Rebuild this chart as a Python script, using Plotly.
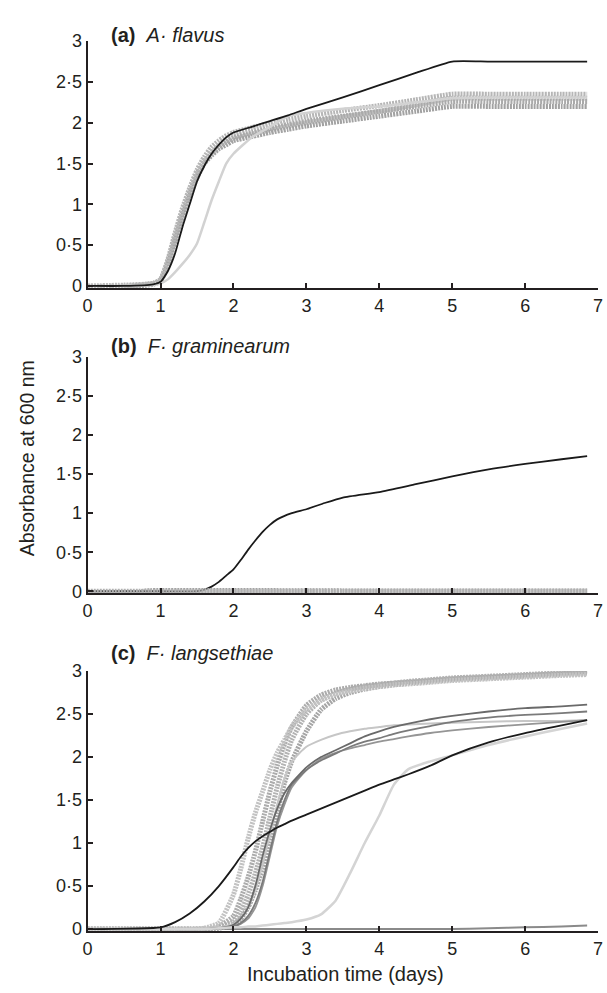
import plotly.graph_objects as go

# ---------------- data ----------------
# Panel (a) A. flavus
a_t = [0, 0.5, 0.9, 1.0, 1.1, 1.2, 1.3, 1.4, 1.5, 1.6, 1.7, 1.8, 1.9, 2.0, 2.25, 2.5, 2.75, 3.0, 3.5, 4.0, 4.5, 5.0, 5.5, 6.0, 6.5, 6.85]
a_black = [0, 0, 0.02, 0.05, 0.18, 0.4, 0.72, 1.0, 1.28, 1.47, 1.62, 1.73, 1.82, 1.88, 1.95, 2.02, 2.09, 2.17, 2.31, 2.46, 2.61, 2.75, 2.75, 2.75, 2.75, 2.75]
a_light = [0, 0, 0.01, 0.03, 0.08, 0.17, 0.27, 0.38, 0.52, 0.78, 1.05, 1.28, 1.5, 1.62, 1.82, 1.95, 2.08, 2.12, 2.17, 2.2, 2.25, 2.3, 2.31, 2.31, 2.31, 2.31]
a_gray1 = [-0.01, -0.01, 0.03, 0.07, 0.3, 0.6, 0.9, 1.15, 1.38, 1.53, 1.63, 1.71, 1.77, 1.82, 1.88, 1.93, 1.98, 2.02, 2.08, 2.14, 2.2, 2.26, 2.26, 2.26, 2.26, 2.26]
a_gray2 = [-0.01, 0, 0.03, 0.08, 0.32, 0.65, 0.95, 1.2, 1.42, 1.58, 1.7, 1.78, 1.84, 1.88, 1.94, 1.99, 2.04, 2.08, 2.15, 2.21, 2.28, 2.35, 2.35, 2.35, 2.35, 2.35]
a_gray3 = [-0.01, -0.01, 0.02, 0.06, 0.26, 0.55, 0.85, 1.1, 1.33, 1.5, 1.6, 1.68, 1.73, 1.78, 1.83, 1.88, 1.92, 1.96, 2.02, 2.08, 2.14, 2.2, 2.2, 2.2, 2.2, 2.2]
a_gray4 = [0, 0.01, 0.03, 0.07, 0.28, 0.58, 0.88, 1.13, 1.36, 1.52, 1.62, 1.7, 1.76, 1.8, 1.86, 1.91, 1.96, 2.0, 2.07, 2.14, 2.22, 2.3, 2.3, 2.3, 2.3, 2.3]

# Panel (b) F. graminearum
b_t = [0, 1.0, 1.5, 1.6, 1.7, 1.8, 1.9, 2.0, 2.1, 2.2, 2.3, 2.4, 2.5, 2.6, 2.8, 3.0, 3.25, 3.5, 4.0, 4.5, 5.0, 5.5, 6.0, 6.5, 6.85]
b_black = [0, 0, 0, 0.02, 0.06, 0.12, 0.2, 0.28, 0.4, 0.53, 0.65, 0.76, 0.85, 0.92, 1.0, 1.05, 1.13, 1.2, 1.27, 1.37, 1.47, 1.56, 1.63, 1.69, 1.73]
b_gray_t = [0, 0.7, 0.8, 3.5, 6.85]
b_gray1 = [-0.015, -0.015, 0.005, 0.005, 0.005]
b_gray2 = [0.0, 0.0, 0.0, 0.0, 0.0]

# Panel (c) F. langsethiae
c_t = [0, 1.0, 1.2, 1.4, 1.6, 1.8, 2.0, 2.1, 2.2, 2.3, 2.4, 2.5, 2.6, 2.7, 2.8, 3.0, 3.2, 3.4, 3.6, 3.8, 4.0, 4.2, 4.4, 4.7, 5.0, 5.5, 6.0, 6.5, 6.85]
c_black = [0, 0.02, 0.08, 0.18, 0.32, 0.5, 0.72, 0.84, 0.94, 1.02, 1.08, 1.13, 1.18, 1.22, 1.26, 1.33, 1.4, 1.47, 1.54, 1.61, 1.68, 1.74, 1.8, 1.9, 2.02, 2.17, 2.28, 2.37, 2.43]
c_light = [0, 0, 0, 0, 0, 0.01, 0.02, 0.02, 0.03, 0.03, 0.04, 0.05, 0.06, 0.07, 0.08, 0.11, 0.17, 0.33, 0.65, 1.0, 1.32, 1.68, 1.86, 1.95, 2.02, 2.14, 2.24, 2.33, 2.39]
c_dark1 = [0, 0, 0, 0, 0, 0.01, 0.05, 0.12, 0.25, 0.5, 0.85, 1.15, 1.4, 1.58, 1.7, 1.88, 2.0, 2.08, 2.16, 2.24, 2.3, 2.35, 2.39, 2.44, 2.48, 2.53, 2.57, 2.59, 2.61]
c_dark2 = [0, 0, 0, 0, 0, 0.01, 0.03, 0.07, 0.15, 0.3, 0.55, 0.9, 1.25, 1.5, 1.68, 1.85, 1.96, 2.04, 2.12, 2.18, 2.22, 2.27, 2.31, 2.36, 2.41, 2.46, 2.49, 2.51, 2.53]
c_mid = [0, 0, 0, 0, 0, 0.01, 0.03, 0.06, 0.12, 0.25, 0.5, 0.85, 1.2, 1.45, 1.65, 1.85, 1.98, 2.05, 2.1, 2.14, 2.18, 2.21, 2.24, 2.28, 2.31, 2.35, 2.38, 2.41, 2.43]
c_lsolid = [0, 0, 0, 0, 0, 0.02, 0.06, 0.12, 0.25, 0.45, 0.75, 1.1, 1.45, 1.75, 1.95, 2.12, 2.2, 2.26, 2.3, 2.33, 2.35, 2.37, 2.38, 2.39, 2.4, 2.41, 2.42, 2.42, 2.43]
c_thick1 = [-0.01, -0.01, -0.01, -0.01, 0.01, 0.07, 0.4, 0.7, 1.05, 1.35, 1.6, 1.85, 2.05, 2.2, 2.35, 2.55, 2.66, 2.73, 2.77, 2.8, 2.82, 2.84, 2.85, 2.87, 2.89, 2.91, 2.93, 2.95, 2.96]
c_thick2 = [-0.01, -0.01, -0.01, -0.01, 0, 0.03, 0.15, 0.35, 0.6, 0.9, 1.25, 1.6, 1.9, 2.15, 2.35, 2.6, 2.72, 2.78, 2.81, 2.83, 2.85, 2.86, 2.87, 2.89, 2.91, 2.93, 2.95, 2.97, 2.98]
c_thick3 = [0, 0, 0, 0, 0, 0.02, 0.08, 0.2, 0.4, 0.65, 0.95, 1.3, 1.65, 1.95, 2.2, 2.5, 2.66, 2.74, 2.79, 2.82, 2.84, 2.86, 2.88, 2.9, 2.92, 2.94, 2.96, 2.98, 3.0]
c_thick4 = [0, 0, 0, 0, 0, 0.01, 0.05, 0.12, 0.25, 0.45, 0.7, 1.0, 1.35, 1.7, 1.95, 2.3, 2.55, 2.68, 2.75, 2.79, 2.82, 2.84, 2.86, 2.88, 2.9, 2.92, 2.94, 2.96, 2.97]
c_base_t = [0, 5.0, 5.5, 6.0, 6.5, 6.85]
c_base = [0, 0.0, 0.01, 0.02, 0.03, 0.04]

x_ticks = [0, 1, 2, 3, 4, 5, 6, 7]
x_ticktext = ["0", "1", "2", "3", "4", "5", "6", "7"]
y_ticks = [0, 0.5, 1, 1.5, 2, 2.5, 3]
y_ticktext = ["0", "0·5", "1", "1·5", "2", "2·5", "3"]

panel_titles = [("(a)", "A· flavus"), ("(b)", "F· graminearum"), ("(c)", "F· langsethiae")]
y_title = "Absorbance at 600 nm"
x_title = "Incubation time (days)"

# ---------------- layout geometry (pixels) ----------------
W, H = 607, 993
FONT = "Liberation Sans, Arial, Helvetica, sans-serif"
INK = "#231f20"
x_left, x_right = 84, 603
# (pixel of value 3, pixel of value 0) for each panel
panels_px = [(31.7, 281.0), (353.3, 592.0), (673.3, 936.0)]
title_px = [25, 342, 655]
y_lo = -0.025

fig = go.Figure()

def add(panel, x, y, color, width, dash="solid"):
    sfx = "" if panel == 1 else str(panel)
    fig.add_trace(go.Scatter(
        x=x, y=y, mode="lines",
        line=dict(color=color, width=width, dash=dash, shape="spline", smoothing=0.5),
        xaxis="x" + sfx, yaxis="y" + sfx, showlegend=False, hoverinfo="skip"))

TH = "2px,1px"
# panel a
add(1, a_t, a_gray4, "#bdbdbd", 5, TH)
add(1, a_t, a_gray3, "#a2a2a2", 5, TH)
add(1, a_t, a_gray1, "#aaaaaa", 5, TH)
add(1, a_t, a_gray2, "#b6b6b6", 5, TH)
add(1, a_t, a_light, "#d2d2d2", 2.5)
add(1, a_t, a_black, "#1a1a1a", 1.8)
# panel b
add(2, b_t, b_black, "#1a1a1a", 1.8)
add(2, b_gray_t, b_gray1, "#a0a0a0", 5, TH)
add(2, b_gray_t, b_gray2, "#b0b0b0", 5, TH)
# panel c
add(3, c_base_t, c_base, "#8a8a8a", 2)
add(3, c_t, c_thick4, "#a6a6a6", 5, TH)
add(3, c_t, c_thick3, "#b3b3b3", 5, TH)
add(3, c_t, c_thick2, "#acacac", 5, TH)
add(3, c_t, c_thick1, "#c2c2c2", 5, TH)
add(3, c_t, c_lsolid, "#c6c6c6", 2)
add(3, c_t, c_mid, "#959595", 1.8)
add(3, c_t, c_dark2, "#7a7a7a", 1.8)
add(3, c_t, c_dark1, "#6a6a6a", 1.8)
add(3, c_t, c_light, "#d4d4d4", 2.5)
add(3, c_t, c_black, "#1a1a1a", 1.8)

layout = dict(
    width=W, height=H, margin=dict(l=0, r=0, t=0, b=0),
    paper_bgcolor="white", plot_bgcolor="white",
    font=dict(family=FONT, size=18, color=INK),
)
annotations = []
for i, (ptop, pzero) in enumerate(panels_px):
    n = i + 1
    sfx = "" if n == 1 else str(n)
    unit = (pzero - ptop) / 3.0
    pbot = pzero - y_lo * unit
    dom = [1 - pbot / H, 1 - ptop / H]
    axis_common = dict(showline=True, linecolor=INK, linewidth=2, ticks="inside", ticklen=5,
                       tickwidth=1.5, tickcolor=INK, showgrid=False, zeroline=False,
                       tickfont=dict(family=FONT, size=18, color=INK), mirror=False)
    layout["xaxis" + sfx] = dict(axis_common, domain=[x_left / W, x_right / W], range=[0, 7],
                                 tickvals=x_ticks, ticktext=x_ticktext,
                                 ticklabeloverflow="allow", anchor="y" + sfx)
    layout["yaxis" + sfx] = dict(axis_common, domain=dom, range=[y_lo, 3.0],
                                 tickvals=y_ticks, ticktext=y_ticktext, anchor="x" + sfx)
    lab, sp = panel_titles[i]
    annotations.append(dict(xref="paper", yref="paper", x=106 / W, y=1 - title_px[i] / H,
                            xanchor="left", yanchor="middle", showarrow=False,
                            text="<b>" + lab + "</b>  <i>" + sp + "</i>",
                            font=dict(family=FONT, size=20, color=INK)))
annotations.append(dict(xref="paper", yref="paper", x=22 / W, y=1 - 457 / H, textangle=-90,
                        xanchor="center", yanchor="middle", showarrow=False, text=y_title,
                        font=dict(family=FONT, size=19.5, color=INK)))
annotations.append(dict(xref="paper", yref="paper", x=346 / W, y=1 - 982 / H,
                        xanchor="center", yanchor="middle", showarrow=False, text=x_title,
                        font=dict(family=FONT, size=20, color=INK)))
layout["annotations"] = annotations
fig.update_layout(**layout)

fig.write_html("out.html", config={"displayModeBar": False},
               post_script="document.body.style.margin='0';document.documentElement.style.overflow='hidden';")
